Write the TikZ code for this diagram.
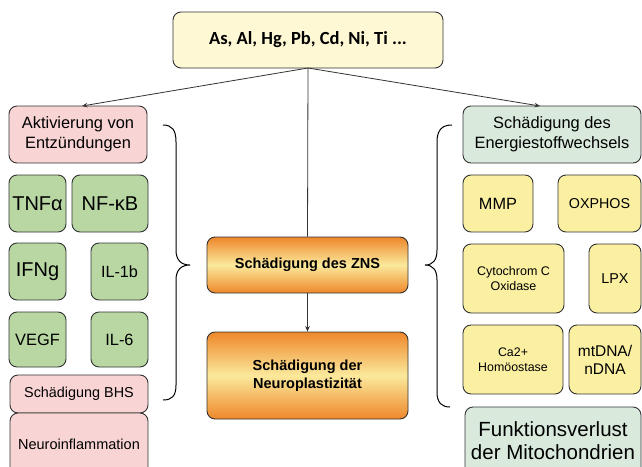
\documentclass[tikz,border=0pt]{standalone}
\usepackage{fontspec}
\setmainfont{Liberation Sans}
\newfontfamily\calib{Carlito}
\usetikzlibrary{arrows.meta}
\definecolor{bordc}{HTML}{333333}
\definecolor{topfill}{HTML}{FEF8D4}
\definecolor{pinkfill}{HTML}{F8D5D4}
\definecolor{greenfill}{HTML}{B8D7A2}
\definecolor{mintfill}{HTML}{D9EADD}
\definecolor{yelfill}{HTML}{FBEFA2}
\definecolor{orangedark}{HTML}{EE872A}
\definecolor{orangelight}{HTML}{FBE99C}
\newcommand{\fsz}[2]{\fontsize{#1}{#2}\selectfont}
\begin{document}
\begin{tikzpicture}[x=1pt,y=-1pt,
  box/.style={draw=bordc, line width=0.9pt, rounded corners=8pt, align=center, inner sep=1pt},
  pinkbox/.style={box, fill=pinkfill},
  greenbox/.style={box, fill=greenfill},
  yelbox/.style={box, fill=yelfill},
  mintbox/.style={box, fill=mintfill},
  orangebox/.style={box, top color=orangedark, bottom color=orangedark, middle color=orangelight},
  conn/.style={draw=bordc, line width=0.8pt},
  arr/.style={conn, -{Stealth[length=5.5pt,width=4.5pt]}},
  brace/.style={draw=black, line width=1pt}]
\clip (0,0) rectangle (642,466);
\fill[white] (0,0) rectangle (642,466);

% top
\node[box, fill=topfill, minimum width=270pt, minimum height=56pt, font={\calib\bfseries\fsz{18.5}{22}}] (top) at (308,40)
  {As, Al, Hg, Pb, Cd, Ni, Ti ...};

% left column
\node[pinkbox, minimum width=138pt, minimum height=57pt, font=\fsz{16.4}{19.5}] (akt) at (78,134.5)
  {Aktivierung von\\Entzündungen};
\node[greenbox, minimum width=57pt, minimum height=57pt, font=\fsz{20}{24}] (tnf) at (37.5,203.5)
  {TNFα};
\node[greenbox, minimum width=76pt, minimum height=57pt, font=\fsz{20}{24}] (nfkb) at (110,203.5)
  {NF-κB};
\node[greenbox, minimum width=57pt, minimum height=57pt, font=\fsz{20}{24}] (ifng) at (37.5,271.5)
  {IFNg};
\node[greenbox, minimum width=57pt, minimum height=57pt, font=\fsz{16.2}{19}] (il1b) at (119.5,271.5)
  {IL-1b};
\node[greenbox, minimum width=57pt, minimum height=55pt, font=\fsz{16.4}{19}] (vegf) at (37.5,339.5)
  {VEGF};
\node[greenbox, minimum width=57pt, minimum height=55pt, font=\fsz{16.3}{19}] (il6) at (119.5,339.5)
  {IL-6};
\node[pinkbox, minimum width=138pt, minimum height=38pt, font=\fsz{14.4}{17}] (bhs) at (79,394)
  {Schädigung BHS};
\node[pinkbox, minimum width=138pt, minimum height=62pt, font=\fsz{14.5}{17}] (ninf) at (79,444)
  {Neuroinflammation};

% center
\node[orangebox, minimum width=201pt, minimum height=56pt, font={\bfseries\fsz{14.5}{17.7}}] (zns) at (307.5,265)
  {Schädigung des ZNS};
\node[orangebox, minimum width=201pt, minimum height=87pt, font={\bfseries\fsz{14.5}{17.7}}] (nplast) at (307.5,375.5)
  {Schädigung der\\Neuroplastizität};

% right column
\node[mintbox, minimum width=178pt, minimum height=57pt, font=\fsz{16.4}{19.5}] (energ) at (552,134.5)
  {Schädigung des\\Energiestoffwechsels};
\node[yelbox, minimum width=70pt, minimum height=57pt, font=\fsz{16.3}{19}] (mmp) at (498,203.5)
  {MMP};
\node[yelbox, minimum width=83pt, minimum height=57pt, font=\fsz{14.3}{17}] (oxphos) at (599.5,203.5)
  {OXPHOS};
\node[yelbox, minimum width=101pt, minimum height=69pt, font=\fsz{12.5}{14.5}] (cyto) at (513.5,278.5)
  {Cytochrom C\\Oxidase};
\node[yelbox, minimum width=52pt, minimum height=69pt, font=\fsz{14.3}{17}] (lpx) at (615,278.5)
  {LPX};
\node[yelbox, minimum width=100pt, minimum height=69pt, font=\fsz{12.4}{15}] (ca) at (513,359.5)
  {Ca2+\\Homöostase};
\node[yelbox, minimum width=72pt, minimum height=69pt, font=\fsz{15.5}{18}] (mtdna) at (605,359.5)
  {mtDNA/\\nDNA};
\node[mintbox, minimum width=176pt, minimum height=68pt, font=\fsz{20.5}{23}] (funkt) at (553,441)
  {Funktionsverlust\\der Mitochondrien};

% connectors
\coordinate (src) at (308,68);
\draw[arr] (src) -- (82,106);
\draw[arr] (src) -- (540,106);
\draw[conn] (src) -- (zns.north);
\draw[arr] (zns.south) -- (nplast.north);

% braces
\draw[brace] (163,125) .. controls (172,125) and (176,130) .. (176,142)
  -- (176,250) .. controls (176,260) and (181,265) .. (190,265)
  .. controls (181,265) and (176,270) .. (176,280)
  -- (176,385) .. controls (176,396) and (172,400) .. (163,400);
\draw[brace] (452,125) .. controls (442,125) and (437,130) .. (437,142)
  -- (437,250) .. controls (437,260) and (433,265) .. (425,265)
  .. controls (433,265) and (437,270) .. (437,280)
  -- (437,392) .. controls (437,403) and (442,407) .. (450,407);
\end{tikzpicture}
\end{document}
